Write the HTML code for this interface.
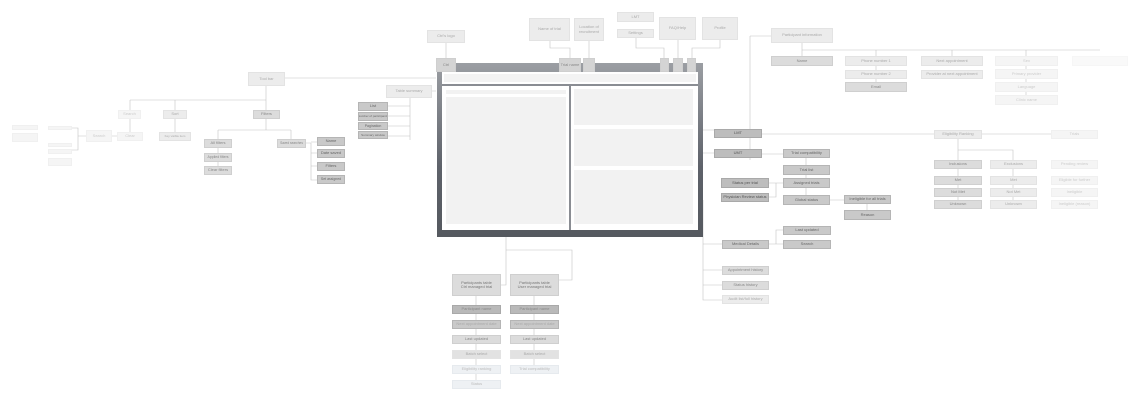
<!DOCTYPE html>
<html><head><meta charset="utf-8"><style>
body{margin:0;background:#fff;}
#c{position:relative;width:1147px;height:403px;overflow:hidden;font-family:"Liberation Sans",sans-serif;}
.b{position:absolute;display:flex;align-items:center;justify-content:center;text-align:center;font-size:4px;line-height:4.5px;color:#666;background:#c9c9c9;border:1px solid #b5b5b5;box-sizing:border-box;white-space:nowrap;overflow:hidden;}
.w{white-space:normal;}
.m{background:#dcdcdc;border-color:#cfcfcf;color:#888;}
.l{background:#ececec;border-color:#e3e3e3;color:#aaa;}
.f{background:#f5f5f5;border-color:#f0f0f0;color:#ccc;}
.d{background:#bdbdbd;border-color:#a9a9a9;color:#555;}
.e{background:#eef1f4;border-color:#e6eaee;color:#bbb;}
svg{position:absolute;left:0;top:0;}
</style></head><body><div id="c">
<svg width="1147" height="403" fill="none" stroke-width="0.6">
<g stroke="#c4c4c4">
<path d="M446 43V58M550 41V48H570V58M589 41V58M636 38V48H664V58M678 40V58M720 40V48H692V58"/>
<path d="M700 130H714M700 130V153H714M703 200V244H722M703 244V270H722M703 270V285H722M703 285V300H722"/>
<path d="M762 154H783M806 158V165M806 175V178M806 188V195M783 183H769M776 183V197H769M830 200H844M867 204V210M769 244H776V230H783M776 244H783"/>
<path d="M762 134H934M982 134H1051M958 139V160M958 150H1013V160M958 169V200M1013 169V200"/>
<path d="M750 36V160M750 36H771M802 43V50H1100M802 50V56M876 50V56M952 50V56M1026 50V56M876 66V82M1026 66V95"/>
<path d="M436 91H432M410 92V140M410 106H388M410 116H388M410 126H388M410 136H388"/>
<path d="M436 78H285M266 86V100M130 100H266M130 100V110M175 100V110M266 100V110M130 119V132M175 119V132M117 136H112M266 119V130M218 130H291M218 130V139M291 130V139M218 148V153M218 162V166M306 143H311V180H317M311 142H317M311 153H317M311 166H317"/>
<path d="M86 136H78V128H72M78 136V150H72"/>
<path d="M506 237V250H572V280H559M506 250V285H501M476 296V305M534 296V305M476 313V380M534 313V365"/>
</g></svg>

<div style="position:absolute;left:437px;top:63px;width:266px;height:174px;background:linear-gradient(#9b9ea3,#5e626a 60%,#55595f);"></div>
<div style="position:absolute;left:442px;top:72px;width:256px;height:158px;background:#fff;"></div>
<div style="position:absolute;left:444px;top:74px;width:252px;height:8px;background:#f3f3f3;"></div>
<div style="position:absolute;left:442px;top:84px;width:256px;height:1.5px;background:#8a8d93;"></div>
<div style="position:absolute;left:569px;top:85px;width:1.5px;height:145px;background:#8a8d93;"></div>
<div style="position:absolute;left:446px;top:90px;width:120px;height:4px;background:#f2f2f2;"></div>
<div style="position:absolute;left:446px;top:97px;width:120px;height:127px;background:#f2f2f2;"></div>
<div style="position:absolute;left:574px;top:89px;width:119px;height:36px;background:#f2f2f2;"></div>
<div style="position:absolute;left:574px;top:129px;width:119px;height:37px;background:#f2f2f2;"></div>
<div style="position:absolute;left:574px;top:170px;width:119px;height:54px;background:#f2f2f2;"></div>
<div class="b m" style="left:436px;top:58px;width:20px;height:14px;background:#d4d4d4;">Ctrl</div>
<div class="b m" style="left:559px;top:58px;width:22px;height:14px;background:#d4d4d4;">Trial name</div>
<div class="b m" style="left:583px;top:58px;width:12px;height:14px;background:#d4d4d4;"></div>
<div class="b m" style="left:660px;top:58px;width:9px;height:14px;background:#d4d4d4;"></div>
<div class="b m" style="left:673px;top:58px;width:10px;height:14px;background:#d4d4d4;"></div>
<div class="b m" style="left:687px;top:58px;width:9px;height:14px;background:#d4d4d4;"></div>

<div class="b l" style="left:427px;top:30px;width:38px;height:13px;">Ctrl's logo</div>
<div class="b l" style="left:529px;top:18px;width:41px;height:23px;">Name of trial</div>
<div class="b l w" style="left:574px;top:18px;width:30px;height:23px;">Location of recruitment</div>
<div class="b l" style="left:617px;top:12px;width:37px;height:10px;">LMT</div>
<div class="b l" style="left:617px;top:29px;width:37px;height:9px;">Settings</div>
<div class="b l" style="left:659px;top:17px;width:37px;height:23px;">FAQ/Help</div>
<div class="b l" style="left:702px;top:17px;width:36px;height:23px;">Profile</div>
<div class="b l" style="left:771px;top:28px;width:62px;height:15px;">Participant information</div>
<div class="b m" style="left:771px;top:56px;width:62px;height:10px;">Name</div>
<div class="b l" style="left:845px;top:56px;width:62px;height:10px;">Phone number 1</div>
<div class="b l" style="left:845px;top:70px;width:62px;height:9px;">Phone number 2</div>
<div class="b m" style="left:845px;top:82px;width:62px;height:10px;">Email</div>
<div class="b l" style="left:921px;top:56px;width:62px;height:10px;">Next appointment</div>
<div class="b l" style="left:921px;top:70px;width:62px;height:9px;">Provider at next appointment</div>
<div class="b f" style="left:995px;top:56px;width:63px;height:10px;">Sex</div>
<div class="b f" style="left:995px;top:69px;width:63px;height:10px;">Primary provider</div>
<div class="b f" style="left:995px;top:82px;width:63px;height:10px;">Language</div>
<div class="b f" style="left:995px;top:95px;width:63px;height:10px;">Clinic name</div>
<div class="b f" style="left:1072px;top:56px;width:56px;height:10px;background:#f9f9f9;border-color:#f6f6f6;"></div>

<div class="b d" style="left:714px;top:129px;width:48px;height:9px;">LMT</div>
<div class="b d" style="left:714px;top:149px;width:48px;height:9px;">UMT</div>
<div class="b" style="left:783px;top:149px;width:47px;height:9px;">Trial compatibility</div>
<div class="b" style="left:783px;top:165px;width:47px;height:10px;">Trial list</div>
<div class="b" style="left:783px;top:178px;width:47px;height:10px;">Assigned trials</div>
<div class="b" style="left:783px;top:195px;width:47px;height:10px;">Global status</div>
<div class="b d" style="left:721px;top:178px;width:48px;height:10px;">Status per trial</div>
<div class="b d" style="left:721px;top:193px;width:48px;height:9px;">Physician Review status</div>
<div class="b" style="left:844px;top:195px;width:47px;height:9px;">Ineligible for all trials</div>
<div class="b" style="left:844px;top:210px;width:47px;height:10px;">Reason</div>
<div class="b" style="left:722px;top:240px;width:47px;height:9px;">Medical Details</div>
<div class="b" style="left:783px;top:226px;width:48px;height:9px;">Last updated</div>
<div class="b" style="left:783px;top:240px;width:48px;height:9px;">Search</div>
<div class="b m" style="left:722px;top:266px;width:47px;height:9px;">Appointment history</div>
<div class="b m" style="left:722px;top:281px;width:47px;height:9px;">Status history</div>
<div class="b l" style="left:722px;top:295px;width:47px;height:9px;">Audit list/full history</div>
<div class="b l" style="left:934px;top:130px;width:48px;height:9px;">Eligibility Ranking</div>
<div class="b m" style="left:934px;top:160px;width:48px;height:9px;">Inclusions</div>
<div class="b m" style="left:934px;top:176px;width:48px;height:9px;">Met</div>
<div class="b m" style="left:934px;top:188px;width:48px;height:9px;">Not Met</div>
<div class="b m" style="left:934px;top:200px;width:48px;height:9px;">Unknown</div>
<div class="b l" style="left:990px;top:160px;width:47px;height:9px;">Exclusions</div>
<div class="b l" style="left:990px;top:176px;width:47px;height:9px;">Met</div>
<div class="b l" style="left:990px;top:188px;width:47px;height:9px;">Not Met</div>
<div class="b l" style="left:990px;top:200px;width:47px;height:9px;">Unknown</div>
<div class="b f" style="left:1051px;top:130px;width:47px;height:9px;">Trials</div>
<div class="b f" style="left:1051px;top:160px;width:47px;height:9px;">Pending review</div>
<div class="b f" style="left:1051px;top:176px;width:47px;height:9px;">Eligible for further</div>
<div class="b f" style="left:1051px;top:188px;width:47px;height:9px;">Ineligible</div>
<div class="b f" style="left:1051px;top:200px;width:47px;height:9px;">Ineligible (reason)</div>

<div class="b l" style="left:248px;top:72px;width:37px;height:14px;">Tool bar</div>
<div class="b l" style="left:386px;top:85px;width:46px;height:13px;">Table summary</div>
<div class="b" style="left:358px;top:102px;width:30px;height:9px;">List</div>
<div class="b" style="left:358px;top:112px;width:30px;height:9px;font-size:3px;">Number of participants</div>
<div class="b" style="left:358px;top:122px;width:30px;height:8px;font-size:3.5px;">Pagination</div>
<div class="b" style="left:358px;top:131px;width:30px;height:8px;font-size:3px;">Summary window</div>
<div class="b f" style="left:118px;top:110px;width:23px;height:9px;">Search</div>
<div class="b l" style="left:163px;top:110px;width:24px;height:9px;">Sort</div>
<div class="b m" style="left:253px;top:110px;width:27px;height:9px;">Filters</div>
<div class="b f" style="left:117px;top:132px;width:26px;height:9px;">Clear</div>
<div class="b l" style="left:159px;top:132px;width:32px;height:9px;font-size:3px;">Key visible item</div>
<div class="b m" style="left:204px;top:139px;width:28px;height:9px;">All filters</div>
<div class="b m" style="left:204px;top:153px;width:28px;height:9px;font-size:3.5px;">Applied filters</div>
<div class="b m" style="left:204px;top:166px;width:28px;height:9px;">Clear filters</div>
<div class="b m" style="left:277px;top:139px;width:29px;height:9px;font-size:3.2px;">Saved searches</div>
<div class="b" style="left:317px;top:137px;width:28px;height:9px;">Name</div>
<div class="b" style="left:317px;top:149px;width:28px;height:9px;">Date saved</div>
<div class="b" style="left:317px;top:162px;width:28px;height:9px;">Filters</div>
<div class="b" style="left:317px;top:175px;width:28px;height:9px;font-size:3.5px;">Set assigned</div>
<div class="b f" style="left:86px;top:130px;width:26px;height:12px;">Search</div>
<div class="b f" style="left:48px;top:126px;width:24px;height:4px;"></div>
<div class="b f" style="left:48px;top:143px;width:24px;height:4px;"></div>
<div class="b f" style="left:48px;top:149px;width:24px;height:5px;"></div>
<div class="b f" style="left:48px;top:158px;width:24px;height:8px;"></div>
<div class="b f" style="left:12px;top:125px;width:26px;height:5px;"></div>
<div class="b f" style="left:12px;top:133px;width:26px;height:9px;"></div>

<div class="b m w" style="left:452px;top:274px;width:49px;height:22px;color:#777;">Participants table<br>Ctrl managed trial</div>
<div class="b m w" style="left:510px;top:274px;width:49px;height:22px;color:#777;">Participants table<br>User managed trial</div>
<div class="b d" style="left:452px;top:305px;width:49px;height:9px;background:#b9b9b9;color:#888;">Participant name</div>
<div class="b d" style="left:510px;top:305px;width:49px;height:9px;background:#b9b9b9;color:#888;">Participant name</div>
<div class="b" style="left:452px;top:320px;width:49px;height:9px;color:#aaa;">Next appointment date</div>
<div class="b" style="left:510px;top:320px;width:49px;height:9px;color:#aaa;">Next appointment date</div>
<div class="b m" style="left:452px;top:335px;width:49px;height:9px;">Last updated</div>
<div class="b m" style="left:510px;top:335px;width:49px;height:9px;">Last updated</div>
<div class="b l" style="left:452px;top:350px;width:49px;height:9px;background:#e2e2e2;">Batch select</div>
<div class="b l" style="left:510px;top:350px;width:49px;height:9px;background:#e2e2e2;">Batch select</div>
<div class="b e" style="left:452px;top:365px;width:49px;height:9px;">Eligibility ranking</div>
<div class="b e" style="left:510px;top:365px;width:49px;height:9px;">Trial compatibility</div>
<div class="b e" style="left:452px;top:380px;width:49px;height:9px;">Status</div>
</div></body></html>
